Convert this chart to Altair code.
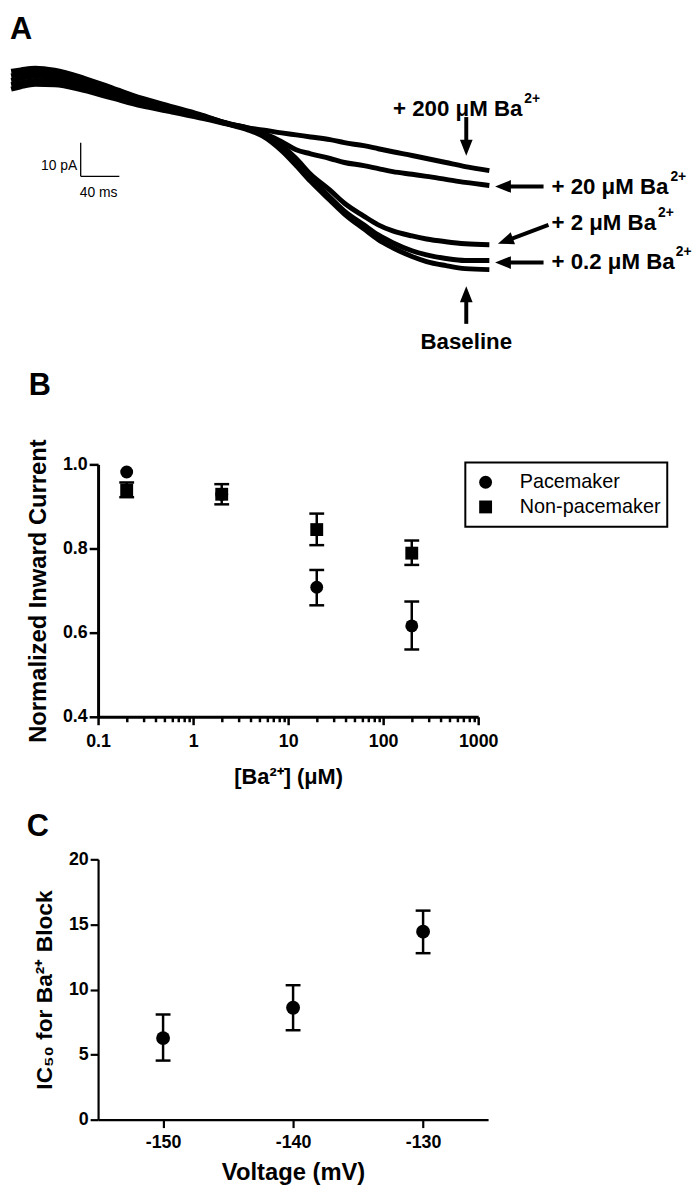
import altair as alt
import pandas as pd

FONT = "Liberation Sans"

# ---------------- Panel A: current traces (time in ms, current in pA) ----------------
trace_time_ms = [10, 20, 35, 55, 85, 115, 145, 175, 205, 235, 255, 270, 290, 305,
                 320, 340, 355, 375, 390, 405, 425, 440, 460, 480, 505]
trace_200uM = [2.4, 2.8, 3.3, 2.7, 0.4, -2.6, -5.6, -8.0, -10.4, -13.1, -14.4, -15.0, -15.9,
               -16.5, -17.1, -17.9, -18.8, -19.7, -20.6, -21.5, -22.6, -23.5, -24.7, -25.9, -27.1]
trace_20uM = [1.0, 1.6, 2.1, 1.6, -0.6, -3.4, -6.2, -8.4, -10.6, -13.2, -14.4, -15.9, -18.5,
              -20.9, -22.1, -23.5, -24.7, -25.6, -26.5, -27.4, -28.2, -28.8, -29.7, -30.6, -31.5]
trace_2uM = [-0.3, 0.3, 0.9, 0.6, -1.5, -4.1, -6.8, -8.8, -10.9, -13.2, -14.7, -16.2, -19.7,
             -23.5, -28.2, -32.9, -36.8, -40.6, -43.2, -45.0, -46.5, -47.4, -48.2, -48.8, -49.1]
trace_02uM = [-1.6, -1.0, -0.3, -0.5, -2.4, -4.9, -7.3, -9.2, -11.1, -13.3, -14.7, -16.5, -20.6,
              -25.0, -29.4, -35.0, -39.1, -43.2, -46.2, -48.5, -50.9, -52.1, -53.2, -53.8, -53.8]
trace_baseline = [-2.9, -2.2, -1.5, -1.6, -3.3, -5.6, -7.9, -9.6, -11.4, -13.4, -15.0, -16.8, -21.2,
                  -25.6, -30.3, -35.9, -40.0, -44.4, -47.6, -50.0, -52.6, -54.1, -55.3, -56.2, -56.5]
trace_names = ["+ 200 uM", "+ 20 uM", "+ 2 uM", "+ 0.2 uM", "Baseline"]

# scale bar (10 pA, 40 ms)
bar_t0, bar_ms = 82, 40
bar_i0, bar_pA = -28.8, 10

# annotation labels (anchor time ms, current pA)
label_main = ["+ 200 μM Ba", "+ 20 μM Ba", "+ 2 μM Ba", "+ 0.2 μM Ba"]
label_t = [405.3, 569.3, 569.3, 569.3]
label_i = [-8.7, -31.9, -42.6, -54.3]
label_sup_t = [541.2, 692.4, 679.6, 698.0]

# arrows: tail (t, i) -> arrow head centre (t, i), head rotation
arrow_t1 = [481.1, 561.1, 566.2, 561.1, 481.1]
arrow_i1 = [-11.2, -31.8, -43.2, -54.4, -72.6]
arrow_t2 = [481.1, 519.1, 521.6, 519.1, 481.1]
arrow_i2 = [-20.3, -31.8, -48.0, -54.4, -63.8]
arrow_angle = [270, 0, 340, 0, 90]

# ---------------- Panel B ----------------
conc_uM = [0.2, 2, 20, 200]
pace_mean = [0.982, 0.929, 0.708, 0.616]
pace_lo = [0.975, 0.915, 0.665, 0.560]
pace_hi = [0.989, 0.943, 0.749, 0.674]
non_mean = [0.939, 0.929, 0.845, 0.789]
non_lo = [0.922, 0.905, 0.808, 0.761]
non_hi = [0.957, 0.953, 0.883, 0.819]
groups = ["Pacemaker", "Non-pacemaker"]
b_ticks = [0.1, 0.2, 0.3, 0.4, 0.5, 0.6, 0.7, 0.8, 0.9,
           1, 2, 3, 4, 5, 6, 7, 8, 9,
           10, 20, 30, 40, 50, 60, 70, 80, 90,
           100, 200, 300, 400, 500, 600, 700, 800, 900, 1000]

# ---------------- Panel C ----------------
voltage_mV = [-150, -140, -130]
ic50 = [6.27, 8.6, 14.44]
ic50_lo = [4.54, 6.87, 12.79]
ic50_hi = [8.08, 10.33, 16.06]

# =====================================================================
rows = []
for name, vals in zip(trace_names, [trace_200uM, trace_20uM, trace_2uM, trace_02uM, trace_baseline]):
    for t, v in zip(trace_time_ms, vals):
        rows.append({"trace": name, "t": t, "i": v})
df_tr = pd.DataFrame(rows)

A_XS = alt.Scale(domain=[100, 600], nice=False, zero=False)
A_YS = alt.Scale(domain=[-72, 10], nice=False, zero=False)


def ax(f):
    return alt.X(f, type="quantitative", scale=A_XS, axis=None)


def ay(f):
    return alt.Y(f, type="quantitative", scale=A_YS, axis=None)


traces = alt.Chart(df_tr).mark_line(color="black", strokeWidth=5, strokeJoin="round",
                                    interpolate="monotone").encode(
    x=ax("t"), y=ay("i"), detail="trace:N", order="t:Q")

df_bar = pd.DataFrame({"t": [bar_t0, bar_t0], "t2": [bar_t0, bar_t0 + bar_ms],
                       "i": [bar_i0, bar_i0], "i2": [bar_i0 + bar_pA, bar_i0]})
bar = alt.Chart(df_bar).mark_rule(color="black", strokeWidth=1.3, strokeJoin="round").encode(
    x=ax("t"), x2="t2:Q", y=ay("i"), y2="i2:Q")

df_bar_txt = pd.DataFrame({"t": [bar_t0 - 3.5, bar_t0 + bar_ms / 2 - 1.5],
                           "i": [bar_i0 + 3.2, bar_i0 - 5.0],
                           "txt": [f"{bar_pA} pA", f"{bar_ms} ms"]})
bar_txt_r = alt.Chart(df_bar_txt.iloc[[0]]).mark_text(
    align="right", baseline="middle", fontSize=14, color="black", font=FONT).encode(
    x=ax("t"), y=ay("i"), text="txt:N")
bar_txt_c = alt.Chart(df_bar_txt.iloc[[1]]).mark_text(
    align="center", baseline="middle", fontSize=14, color="black", font=FONT).encode(
    x=ax("t"), y=ay("i"), text="txt:N")

df_arrow = pd.DataFrame({"t": arrow_t1, "i": arrow_i1, "t2": arrow_t2, "i2": arrow_i2,
                         "angle": arrow_angle})
shafts = alt.Chart(df_arrow).mark_rule(color="black", strokeWidth=4, strokeJoin="round").encode(
    x=ax("t"), y=ay("i"), x2="t2:Q", y2="i2:Q")
heads = alt.Chart(df_arrow).mark_point(
    shape="M-1,0L1,-0.8L1,0.8Z", filled=True, opacity=1, color="black", size=256).encode(
    x=ax("t2"), y=ay("i2"), angle=alt.Angle("angle:Q", scale=None))

df_lab = pd.DataFrame({"txt": label_main, "t": label_t, "i": label_i, "ts": label_sup_t})
labels = alt.Chart(df_lab).mark_text(
    align="left", baseline="middle", fontSize=22.5, fontWeight="bold", color="black", font=FONT).encode(
    x=ax("t"), y=ay("i"), text="txt:N")
sups = alt.Chart(df_lab).mark_text(
    align="left", baseline="middle", fontSize=14, fontWeight="bold", color="black", font=FONT,
    dy=-10, text="2+").encode(x=ax("ts"), y=ay("i"))

df_base = pd.DataFrame({"t": [481.1], "i": [-77.9], "txt": ["Baseline"]})
base_lab = alt.Chart(df_base).mark_text(
    align="center", baseline="middle", fontSize=22.5, fontWeight="bold", color="black", font=FONT).encode(
    x=ax("t"), y=ay("i"), text="txt:N")

df_A = pd.DataFrame({"t": [8.8], "i": [19.1], "txt": ["A"]})
letter_A = alt.Chart(df_A).mark_text(
    align="left", baseline="top", fontSize=31, fontWeight="bold", color="black", font=FONT).encode(
    x=ax("t"), y=ay("i"), text="txt:N")

panel_a = alt.layer(traces, bar, bar_txt_r, bar_txt_c, shafts, heads, labels, sups,
                    base_lab, letter_A).properties(width=488, height=279)

# ---------------- Panel B chart ----------------
dfB = pd.DataFrame({
    "conc": conc_uM * 2,
    "mean": pace_mean + non_mean,
    "lo": pace_lo + non_lo,
    "hi": pace_hi + non_hi,
    "group": [groups[0]] * 4 + [groups[1]] * 4,
})

major = "abs(log(datum.value)/LN10 - round(log(datum.value)/LN10)) < 0.001"
B_XS = alt.Scale(type="log", domain=[0.1, 1000], nice=False)
B_YS = alt.Scale(domain=[0.4, 1.0], nice=False, zero=False)
B_XT = "[Ba²⁺] (μM)"
B_YT = "Normalized Inward Current"
b_xaxis = alt.Axis(
    values=b_ticks, format="~g", labelExpr=f"({major}) ? datum.label : ''",
    tickSize={"condition": {"test": major, "value": 8}, "value": 5},
    tickWidth=2.5, tickColor="black", domainWidth=3, domainColor="black",
    labelFont=FONT, labelFontSize=18, labelFontWeight="bold", labelColor="black",
    labelPadding=8, labelFlush=False, labelOverlap=False,
    titleFont=FONT, titleFontSize=22, titleFontWeight="bold", titleColor="black",
    titlePadding=16, grid=False)
b_yaxis = alt.Axis(
    values=[0.4, 0.6, 0.8, 1.0], format=".1f", tickSize=9, tickWidth=2.5, tickColor="black",
    domainWidth=3, domainColor="black",
    labelFont=FONT, labelFontSize=18, labelFontWeight="bold", labelColor="black",
    labelPadding=2, labelFlush=False,
    titleFont=FONT, titleFontSize=24, titleFontWeight="bold", titleColor="black",
    titlePadding=12, grid=False)


def bx(f="conc"):
    return alt.X(f, type="quantitative", scale=B_XS, axis=b_xaxis, title=B_XT)


def by(f):
    return alt.Y(f, type="quantitative", scale=B_YS, axis=b_yaxis, title=B_YT)


bars_flt = "datum.hi - datum.lo > 0.03"
b_err = alt.Chart(dfB).transform_filter(bars_flt).mark_rule(color="black", strokeWidth=2.5).encode(
    x=bx(), y=by("lo"), y2="hi:Q")
b_cap_lo = alt.Chart(dfB).transform_filter(bars_flt).mark_rule(
    color="black", strokeWidth=2.5, xOffset=-7.5, x2Offset=7.5).encode(x=bx(), x2="conc:Q", y=by("lo"))
b_cap_hi = alt.Chart(dfB).transform_filter(bars_flt).mark_rule(
    color="black", strokeWidth=2.5, xOffset=-7.5, x2Offset=7.5).encode(x=bx(), x2="conc:Q", y=by("hi"))
b_pts = alt.Chart(dfB).mark_point(filled=True, opacity=1, color="black", size=169).encode(
    x=bx(), y=by("mean"),
    shape=alt.Shape("group:N", scale=alt.Scale(domain=groups, range=["circle", "square"]),
                    legend=alt.Legend(orient="none", legendX=381.5, legendY=8, padding=0, title=None,
                                      labelFont=FONT, labelFontSize=20, labelColor="black",
                                      labelOffset=24.5, rowPadding=5, symbolSize=169,
                                      symbolFillColor="black", symbolStrokeColor="black",
                                      symbolOpacity=1)))
one = pd.DataFrame({"k": [0]})
b_box = alt.Chart(one).mark_rect(fillOpacity=0, stroke="black", strokeWidth=2).encode(
    x=alt.value(371), x2=alt.value(575), y=alt.value(-2), y2=alt.value(63))
letter_B = alt.Chart(one).mark_text(
    text="B", align="left", baseline="top", fontSize=31, fontWeight="bold", color="black", font=FONT).encode(
    x=alt.value(-70), y=alt.value(-94))

panel_b = alt.layer(b_err, b_cap_lo, b_cap_hi, b_pts, b_box, letter_B).properties(width=384, height=255)

# ---------------- Panel C chart ----------------
dfC = pd.DataFrame({"v": voltage_mV, "ic": ic50, "lo": ic50_lo, "hi": ic50_hi})
C_XS = alt.Scale(domain=[-155, -125], nice=False, zero=False)
C_YS = alt.Scale(domain=[0, 20], nice=False)
C_XT = "Voltage (mV)"
C_YT = "IC₅₀ for Ba²⁺ Block"
c_xaxis = alt.Axis(
    values=voltage_mV, labelExpr="'' + datum.value", tickSize=8, tickWidth=2.2, tickColor="black",
    domainWidth=2.2, domainColor="black",
    labelFont=FONT, labelFontSize=18, labelFontWeight="bold", labelColor="black",
    labelPadding=6, labelFlush=False,
    titleFont=FONT, titleFontSize=24, titleFontWeight="bold", titleColor="black",
    titlePadding=9, grid=False)
c_yaxis = alt.Axis(
    values=[0, 5, 10, 15, 20], format="d", tickSize=8, tickWidth=2.2, tickColor="black",
    domainWidth=2.2, domainColor="black",
    labelFont=FONT, labelFontSize=18, labelFontWeight="bold", labelColor="black",
    labelPadding=2, labelFlush=False,
    titleFont=FONT, titleFontSize=23, titleFontWeight="bold", titleColor="black",
    titlePadding=12, grid=False)


def cx(f="v"):
    return alt.X(f, type="quantitative", scale=C_XS, axis=c_xaxis, title=C_XT)


def cy(f):
    return alt.Y(f, type="quantitative", scale=C_YS, axis=c_yaxis, title=C_YT)


c_err = alt.Chart(dfC).mark_rule(color="black", strokeWidth=2.5).encode(x=cx(), y=cy("lo"), y2="hi:Q")
c_cap_lo = alt.Chart(dfC).mark_rule(color="black", strokeWidth=2.5, xOffset=-7.5, x2Offset=7.5).encode(
    x=cx(), x2="v:Q", y=cy("lo"))
c_cap_hi = alt.Chart(dfC).mark_rule(color="black", strokeWidth=2.5, xOffset=-7.5, x2Offset=7.5).encode(
    x=cx(), x2="v:Q", y=cy("hi"))
c_pts = alt.Chart(dfC).mark_point(filled=True, opacity=1, color="black", size=196, shape="circle").encode(
    x=cx(), y=cy("ic"))
letter_C = alt.Chart(one).mark_text(
    text="C", align="left", baseline="top", fontSize=31, fontWeight="bold", color="black", font=FONT).encode(
    x=alt.value(-72), y=alt.value(-48))

panel_c = alt.layer(c_err, c_cap_lo, c_cap_hi, c_pts, letter_C).properties(width=394, height=263)

chart = alt.vconcat(panel_a, panel_b, panel_c, spacing=144, bounds="flush").resolve_legend(
    shape="independent"
).properties(
    padding={"left": 0, "top": 0, "right": 0, "bottom": 0}
).configure(font=FONT).configure_view(stroke=None).configure_axis(grid=False)

chart.save("out.html", embed_options={"renderer": "svg", "actions": False})
